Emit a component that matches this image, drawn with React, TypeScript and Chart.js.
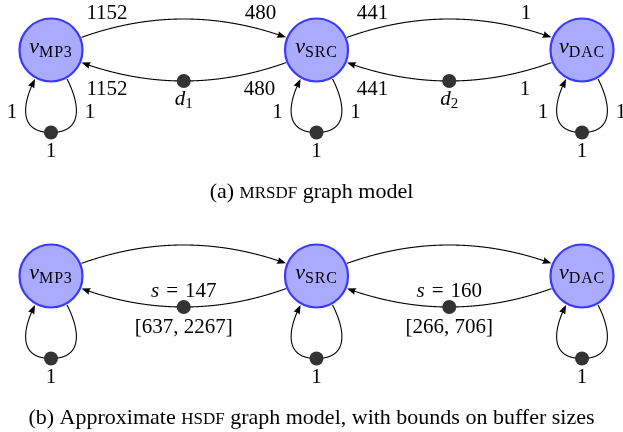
import { useEffect, useRef } from "react";
import { Chart, registerables } from "chart.js";

Chart.register(...registerables);

// ---------- data ----------
const nodeNames = ["MP3", "SRC", "DAC"];
const nodeColumns = [0, 1, 2];
const graphRows = [0, 1]; // row 0: (a) MRSDF, row 1: (b) HSDF
const producedRates = ["1152", "441"]; // at source end of channel i -> i+1
const consumedRates = ["480", "1"]; // at destination end
const selfLoopRates = ["1", "1", "1"];
const selfLoopTokens = ["1", "1", "1"];
const channelTokenIndex = ["1", "2"]; // d_1, d_2
const bufferSizes = [147, 160];
const bufferLowerBounds = [637, 266];
const bufferUpperBounds = [2267, 706];
const captionA = ["(a) ", "MRSDF", " graph model"];
const captionB = ["(b) Approximate ", "HSDF", " graph model, with bounds on buffer sizes"];

// ---------- layout (data units) ----------
const X_MIN = -0.1921;
const X_MAX = 2.1544;
const Y_MIN = -0.2212;
const Y_MAX = 1.6903;
const CHANNEL_TOKEN_DROP = 0.137;
const LOOP_TOKEN_DROP = 0.365;

// ---------- styles ----------
const SERIF = '"Liberation Serif", "DejaVu Serif", serif';
const NODE_FILL = "#aaaaff";
const NODE_STROKE = "#3a3aff";
const TOKEN_FILL = "#333333";
const NODE_R = 31.5;
const NODE_OUTER = 32.6;
const TOKEN_R = 7;
const FS = 21;

type P = { x: number; y: number };

function quad(a: P, c: P, b: P, t: number): P {
  const u = 1 - t;
  return { x: u * u * a.x + 2 * u * t * c.x + t * t * b.x, y: u * u * a.y + 2 * u * t * c.y + t * t * b.y };
}
function cubic(a: P, b: P, c: P, d: P, t: number): P {
  const u = 1 - t;
  return {
    x: u * u * u * a.x + 3 * u * u * t * b.x + 3 * u * t * t * c.x + t * t * t * d.x,
    y: u * u * u * a.y + 3 * u * u * t * b.y + 3 * u * t * t * c.y + t * t * t * d.y,
  };
}
const dist = (a: P, b: P) => Math.hypot(a.x - b.x, a.y - b.y);

function drawPath(
  ctx: CanvasRenderingContext2D,
  f: (t: number) => P,
  startClip: P | null,
  endClip: P | null,
  arrow: boolean
) {
  const N = 600;
  const pts: P[] = [];
  for (let i = 0; i <= N; i++) pts.push(f(i / N));
  let s = 0;
  let e = N;
  if (startClip) while (s < N && dist(pts[s], startClip) < NODE_OUTER) s++;
  if (endClip) while (e > 0 && dist(pts[e], endClip) < NODE_OUTER) e--;
  const tip = pts[e];
  const L = 9;
  const W = 3.4;
  let lineEnd = e;
  if (arrow) while (lineEnd > s && dist(pts[lineEnd], tip) < L - 2) lineEnd--;
  ctx.save();
  ctx.strokeStyle = "#000";
  ctx.lineWidth = 1.1;
  ctx.beginPath();
  ctx.moveTo(pts[s].x, pts[s].y);
  for (let i = s + 1; i <= lineEnd; i++) ctx.lineTo(pts[i].x, pts[i].y);
  ctx.stroke();
  if (arrow) {
    let k = e;
    while (k > s && dist(pts[k], tip) < L) k--;
    const back = pts[k];
    const ux = (tip.x - back.x) / dist(tip, back);
    const uy = (tip.y - back.y) / dist(tip, back);
    const bx = tip.x - ux * L;
    const by = tip.y - uy * L;
    const nx = -uy;
    const ny = ux;
    ctx.fillStyle = "#000";
    ctx.beginPath();
    ctx.moveTo(tip.x, tip.y);
    ctx.quadraticCurveTo(bx + ux * 4 + nx * W * 0.6, by + uy * 4 + ny * W * 0.6, bx + nx * W, by + ny * W);
    ctx.quadraticCurveTo(bx + ux * 2, by + uy * 2, bx - nx * W, by - ny * W);
    ctx.quadraticCurveTo(bx + ux * 4 - nx * W * 0.6, by + uy * 4 - ny * W * 0.6, tip.x, tip.y);
    ctx.fill();
  }
  ctx.restore();
}

type Part = { t: string; font: string; dy?: number; ls?: number; gap?: number };
function rich(ctx: CanvasRenderingContext2D, parts: Part[], cx: number, baseline: number) {
  let total = 0;
  const ws: number[] = [];
  for (const p of parts) {
    ctx.font = p.font;
    (ctx as any).letterSpacing = (p.ls || 0) + "px";
    const w = ctx.measureText(p.t).width + (p.gap || 0);
    ws.push(w);
    total += w;
  }
  let x = cx - total / 2;
  ctx.fillStyle = "#000";
  ctx.textAlign = "left";
  ctx.textBaseline = "alphabetic";
  parts.forEach((p, i) => {
    ctx.font = p.font;
    (ctx as any).letterSpacing = (p.ls || 0) + "px";
    ctx.fillText(p.t, x, baseline + (p.dy || 0));
    x += ws[i];
  });
  (ctx as any).letterSpacing = "0px";
}

const rm = (s: number) => `${s}px ${SERIF}`;
const it = (s: number) => `italic ${s}px ${SERIF}`;

const graphPlugin = {
  id: "graphPlugin",
  beforeDatasetsDraw(chart: any) {
    const ctx: CanvasRenderingContext2D = chart.ctx;
    const xs = chart.scales.x;
    const ys = chart.scales.y;
    const px = (x: number, y: number): P => ({ x: xs.getPixelForValue(x), y: ys.getPixelForValue(y) });
    graphRows.forEach((r) => {
      for (let i = 0; i < nodeColumns.length - 1; i++) {
        const A = px(nodeColumns[i], r);
        const B = px(nodeColumns[i + 1], r);
        const h = dist(A, B) * 0.2335;
        const cUp = { x: (A.x + B.x) / 2, y: (A.y + B.y) / 2 - h };
        const cDn = { x: (A.x + B.x) / 2, y: (A.y + B.y) / 2 + h };
        drawPath(ctx, (t) => quad(A, cUp, B, t), A, B, true);
        drawPath(ctx, (t) => quad(B, cDn, A, t), B, A, true);
      }
      nodeColumns.forEach((c) => {
        const N = px(c, r);
        const T = px(c, r + LOOP_TOKEN_DROP);
        const off = (p: P, dx: number, dy: number): P => ({ x: p.x + dx, y: p.y + dy });
        drawPath(ctx, (t) => cubic(T, off(T, -35, 0), off(N, -27, 50), off(N, -16, 29), t), null, N, true);
        drawPath(ctx, (t) => cubic(off(N, 16, 29), off(N, 27, 50), off(T, 35, 0), T, t), N, null, false);
      });
    });
  },
  afterDatasetsDraw(chart: any) {
    const ctx: CanvasRenderingContext2D = chart.ctx;
    const xs = chart.scales.x;
    const ys = chart.scales.y;
    const px = (x: number, y: number): P => ({ x: xs.getPixelForValue(x), y: ys.getPixelForValue(y) });
    ctx.save();
    graphRows.forEach((r) => {
      nodeColumns.forEach((c, k) => {
        const N = px(c, r);
        rich(ctx, [
          { t: "v", font: it(22) },
          { t: nodeNames[k], font: rm(16), dy: 4.5, ls: 0.8 },
        ], N.x, N.y + 3);
        const T = px(c, r + LOOP_TOKEN_DROP);
        rich(ctx, [{ t: selfLoopTokens[k], font: rm(FS) }], T.x, T.y + 24.5);
        if (r === 0) {
          rich(ctx, [{ t: selfLoopRates[k], font: rm(FS) }], N.x - 39, N.y + 68);
          rich(ctx, [{ t: selfLoopRates[k], font: rm(FS) }], N.x + 39, N.y + 68);
        }
      });
      for (let i = 0; i < nodeColumns.length - 1; i++) {
        const A = px(nodeColumns[i], r);
        const B = px(nodeColumns[i + 1], r);
        const D = px((nodeColumns[i] + nodeColumns[i + 1]) / 2, r + CHANNEL_TOKEN_DROP);
        if (r === 0) {
          rich(ctx, [{ t: producedRates[i], font: rm(FS) }], A.x + 56, A.y - 31);
          rich(ctx, [{ t: consumedRates[i], font: rm(FS) }], B.x - 56, B.y - 31);
          rich(ctx, [{ t: producedRates[i], font: rm(FS) }], A.x + 56, A.y + 45);
          rich(ctx, [{ t: consumedRates[i], font: rm(FS) }], B.x - 57, B.y + 45);
          rich(ctx, [
            { t: "d", font: it(FS) },
            { t: channelTokenIndex[i], font: rm(15), dy: 3 },
          ], D.x, D.y + 24);
        } else {
          rich(ctx, [
            { t: "s", font: it(FS), gap: 7 },
            { t: "=", font: rm(FS), gap: 7 },
            { t: String(bufferSizes[i]), font: rm(FS) },
          ], D.x, D.y - 10);
          rich(ctx, [
            { t: "[" + bufferLowerBounds[i] + ", " + bufferUpperBounds[i] + "]", font: rm(FS) },
          ], D.x, D.y + 26);
        }
      }
      const cap = r === 0 ? captionA : captionB;
      const cy = px(0, r).y + 148;
      rich(ctx, [
        { t: cap[0], font: rm(22) },
        { t: cap[1], font: rm(17) },
        { t: cap[2], font: rm(22) },
      ], chart.width / 2, cy);
    });
    ctx.restore();
  },
};

export default function App() {
  const ref = useRef<HTMLCanvasElement | null>(null);
  useEffect(() => {
    if (!ref.current) return;
    const nodePts: P[] = [];
    const tokenPts: P[] = [];
    graphRows.forEach((r) => {
      nodeColumns.forEach((c) => {
        nodePts.push({ x: c, y: r });
        tokenPts.push({ x: c, y: r + LOOP_TOKEN_DROP });
      });
      for (let i = 0; i < nodeColumns.length - 1; i++) {
        tokenPts.push({ x: (nodeColumns[i] + nodeColumns[i + 1]) / 2, y: r + CHANNEL_TOKEN_DROP });
      }
    });
    const chart = new Chart(ref.current, {
      type: "scatter",
      data: {
        datasets: [
          {
            label: "actors",
            data: nodePts,
            pointRadius: NODE_R,
            pointHoverRadius: NODE_R,
            pointBackgroundColor: NODE_FILL,
            pointBorderColor: NODE_STROKE,
            pointBorderWidth: 2.2,
            clip: false,
          } as any,
          {
            label: "tokens",
            data: tokenPts,
            pointRadius: TOKEN_R,
            pointHoverRadius: TOKEN_R,
            pointBackgroundColor: TOKEN_FILL,
            pointBorderColor: TOKEN_FILL,
            pointBorderWidth: 0,
            clip: false,
          } as any,
        ],
      },
      options: {
        animation: false,
        responsive: false,
        maintainAspectRatio: false,
        events: [],
        layout: { padding: 0, autoPadding: false },
        scales: {
          x: { type: "linear", display: false, min: X_MIN, max: X_MAX },
          y: { type: "linear", display: false, min: Y_MIN, max: Y_MAX, reverse: true },
        },
        plugins: { legend: { display: false }, tooltip: { enabled: false } },
      },
      plugins: [graphPlugin],
    });
    return () => chart.destroy();
  }, []);
  return (
    <canvas
      ref={ref}
      width={623}
      height={432}
      style={{ position: "absolute", left: 0, top: 0, display: "block", background: "#fff" }}
    />
  );
}
